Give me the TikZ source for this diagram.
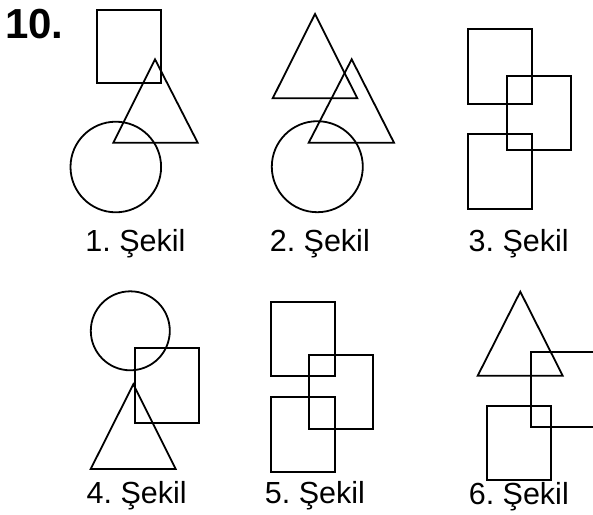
\documentclass[tikz,border=0pt]{standalone}
\usepackage{fontspec}
\setmainfont{Liberation Sans}
\frenchspacing

\begin{document}
\begin{tikzpicture}[x=1pt,y=-1pt,
  fig/.style={line width=1.8pt,line join=miter},
  sekil/.style={inner sep=0pt,anchor=base,font=\fontsize{30.5}{30.5}\selectfont},
  num/.style={inner sep=0pt,anchor=base west,font=\fontsize{42}{42}\selectfont\bfseries}]
\clip (0,0) rectangle (593,514);
\node[num] (q10) at (5,38.3) {10.};
% 1. Sekil
\draw[fig] (97.3,10) rectangle (161.3,83.3);
\draw[fig] (155,59.3) -- (197.7,142.7) -- (113.3,142.7) -- cycle;
\draw[fig] (115.8,167) circle [radius=45.3pt];
\node[sekil] (s1) at (135.5,251.7) {1. Şekil};
% 2. Sekil
\draw[fig] (315,14) -- (357.3,98.3) -- (272.7,98.3) -- cycle;
\draw[fig] (351.7,59.3) -- (394,142.7) -- (308.7,142.7) -- cycle;
\draw[fig] (317.3,166.7) circle [radius=45.5pt];
\node[sekil] (s2) at (319.8,251.7) {2. Şekil};
% 3. Sekil
\draw[fig] (468,29.3) rectangle (532.3,104.3);
\draw[fig] (506.7,76) rectangle (571,150);
\draw[fig] (468,134) rectangle (532.3,208.7);
\node[sekil] (s3) at (518.7,251.7) {3. Şekil};
% 4. Sekil
\draw[fig] (130.3,330.8) circle [radius=39.5pt];
\draw[fig] (135,348.3) rectangle (199.3,423.3);
\draw[fig] (133.3,384.3) -- (175.7,469) -- (90.7,469) -- cycle;
\node[sekil] (s4) at (136.7,503.5) {4. Şekil};
% 5. Sekil
\draw[fig] (270.7,301.7) rectangle (334.7,376);
\draw[fig] (308.7,355) rectangle (372.7,429.3);
\draw[fig] (270.7,396.7) rectangle (334.7,471.7);
\node[sekil] (s5) at (315,503.5) {5. Şekil};
% 6. Sekil
\draw[fig] (520.3,291.7) -- (562.7,375.7) -- (477.7,375.7) -- cycle;
\draw[fig] (530.7,352.3) rectangle (596,426.7);
\draw[fig] (487,405.7) rectangle (551,480);
\node[sekil] (s6) at (518.8,504) {6. Şekil};
\end{tikzpicture}
\end{document}
